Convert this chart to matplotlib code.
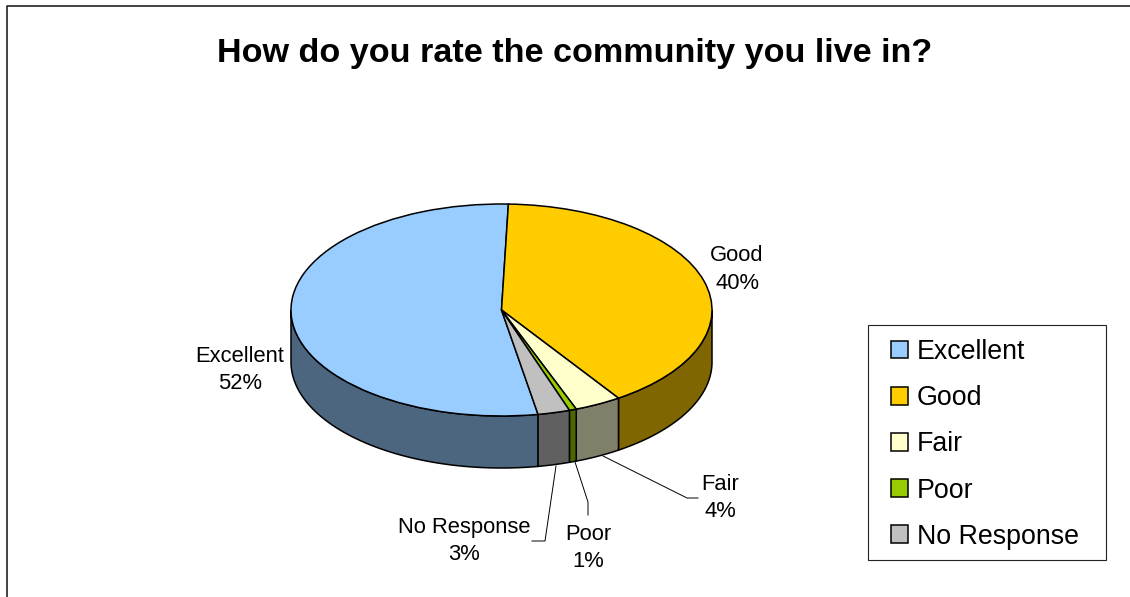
import numpy as np
import matplotlib
matplotlib.use('Agg')
import matplotlib.pyplot as plt
from matplotlib.patches import Patch, Rectangle

plt.rcParams['font.family'] = ['Liberation Sans', 'DejaVu Sans']

W, H = 1130, 597
EDGE = 1.1

categories = ['Excellent', 'Good', 'Fair', 'Poor', 'No Response']
# slice sizes as drawn (the 3D view stretches them a bit), printed labels below
shares = [53.3, 40.1, 3.6, 0.55, 2.45]
percent_labels = ['52%', '40%', '4%', '1%', '3%']
top_colors = ['#99ccff', '#ffcc00', '#ffffcc', '#99cc00', '#c0c0c0']
side_colors = ['#4d6680', '#806600', '#80806a', '#4d6600', '#606060']

start_clock = 170.0   # clockwise from 12 o'clock, where Excellent begins
depth = 52 / 106      # wall height in units of the vertical radius

label_pos = [(240, 370), (737, 269.5), (720, 498), (588, 548), (464, 541)]
leaders = {
    'Fair': [(603, 456), (687, 498), (698, 498)],
    'Poor': [(575, 462), (588, 502), (588, 515)],
    'No Response': [(556, 466), (545, 541), (532, 541)],
}


def draw_walls(ax):
    # visible wall is only the front half of the rim
    edges = start_clock + np.cumsum([0] + shares) * 3.6
    for i in range(len(shares)):
        for shift in (0, 360):
            a = max(edges[i] + shift - 360, 90)
            b = min(edges[i + 1] + shift - 360, 270)
            if b <= a:
                continue
            t = np.radians(np.linspace(a, b, 80))
            x = np.sin(t)
            y = np.cos(t)
            ax.fill(np.r_[x, x[::-1]], np.r_[y, y[::-1] - depth],
                    facecolor=side_colors[i], edgecolor='black',
                    linewidth=EDGE, clip_on=False, zorder=0.5)


fig = plt.figure(figsize=(W / 100, H / 100), dpi=100, facecolor='white')

# overlay in pixel coordinates for frame, title and labels
over = fig.add_axes([0, 0, 1, 1])
over.set_xlim(0, W)
over.set_ylim(H, 0)
over.axis('off')

# the axes box is the bounding box of the top ellipse
ax = fig.add_axes([291 / W, 1 - 416 / H, 421 / W, 212 / H])
ax.pie(shares, colors=top_colors, startangle=90 - start_clock, counterclock=False,
       wedgeprops={'edgecolor': 'black', 'linewidth': EDGE, 'clip_on': False})
draw_walls(ax)
ax.set_aspect('auto')
ax.set_xlim(-1, 1)
ax.set_ylim(-1, 1)
ax.axis('off')

over.plot([7, 7, W], [H, 6, 6], color='#222222', lw=1.2, clip_on=False)
over.text(575, 62, 'How do you rate the community you live in?', fontsize=24.6,
          fontweight='bold', ha='center', va='baseline', color='black')

for name, pct, (x, y) in zip(categories, percent_labels, label_pos):
    over.text(x, y, f'{name}\n{pct}', fontsize=15.8, ha='center', va='center',
              linespacing=1.4, color='black')
for pts in leaders.values():
    xs, ys = zip(*pts)
    over.plot(xs, ys, color='black', lw=0.7)

# legend box is a fixed size in the original, so frame drawn separately
over.add_patch(Rectangle((868, 325), 238, 235, facecolor='white',
                         edgecolor='#222222', linewidth=0.8))
handles = [Patch(facecolor=c, edgecolor='black', linewidth=EDGE) for c in top_colors]
fig.legend(handles, categories, loc='upper left',
           bbox_to_anchor=(891 / W, 1 - 339 / H), borderaxespad=0,
           fontsize=19.3, frameon=False, handlelength=0.635, handleheight=0.635,
           handletextpad=0.33, labelspacing=0.753, borderpad=0)

fig.savefig('out.png', dpi=100)
